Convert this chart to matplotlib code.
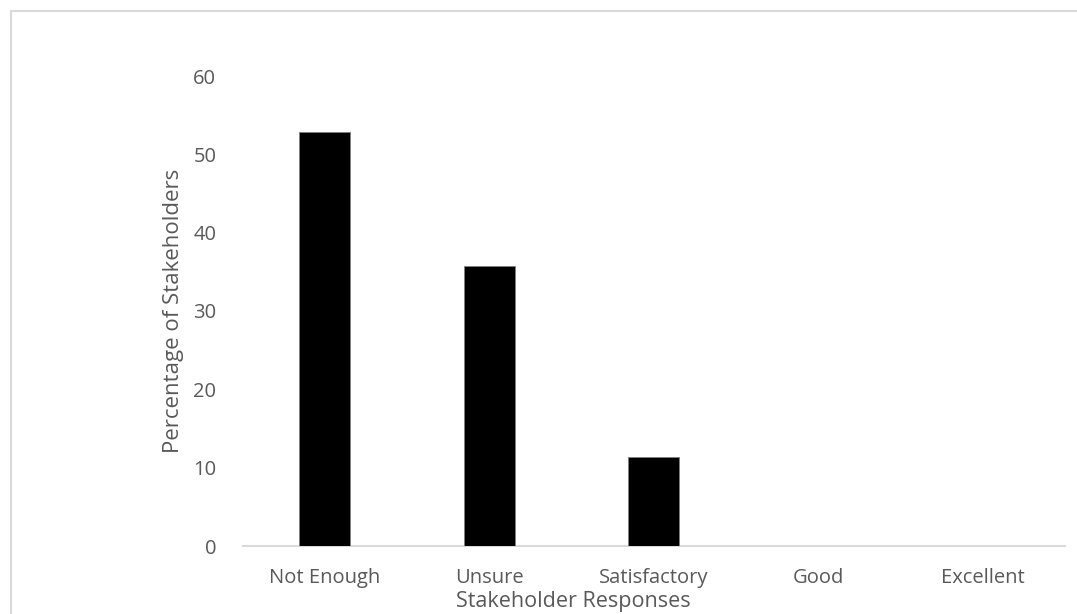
import matplotlib
matplotlib.use("Agg")
import matplotlib.pyplot as plt
from matplotlib.patches import Rectangle

categories = ["Not Enough", "Unsure", "Satisfactory", "Good", "Excellent"]
percentages = [52.9, 35.7, 11.4, 0, 0]
yticks = [0, 10, 20, 30, 40, 50, 60]

TXT = "#595959"
plt.rcParams["font.family"] = ["Open Sans", "DejaVu Sans"]

W, H = 1077, 614
fig = plt.figure(figsize=(W / 100, H / 100), dpi=100)
ax = fig.add_axes([242.7 / W, 1 - 546 / H, (1065 - 242.7) / W, (546 - 76) / H])

x = range(len(categories))
ax.bar(x, percentages, width=0.31, color="black", edgecolor="#7f7f7f", linewidth=0.6, zorder=3)

ax.set_xlim(-0.5, len(categories) - 0.5)
ax.set_ylim(0, 60)
ax.set_yticks(yticks)
ax.set_xticks(list(x))
ax.set_xticklabels(categories)
ax.tick_params(axis="both", length=0, labelsize=14.5, colors=TXT)
ax.tick_params(axis="x", pad=16)
ax.tick_params(axis="y", pad=19)

for s in ["top", "right", "left"]:
    ax.spines[s].set_visible(False)
ax.spines["bottom"].set_color("#d9d9d9")
ax.spines["bottom"].set_linewidth(1.5)

# axis titles placed where the original has them
fig.text(174 / W, 1 - 311 / H, "Percentage of Stakeholders", rotation=90,
         ha="center", va="center", fontsize=16, color=TXT)
fig.text(573 / W, 1 - 602 / H, "Stakeholder Responses", ha="center", va="center",
         fontsize=15.5, color=TXT)

# light chart-area frame
fig.patches.append(Rectangle((10.5 / W, -0.1), 1.2, 1 - 10.5 / H + 0.1, transform=fig.transFigure,
                             fill=False, edgecolor="#d9d9d9", linewidth=1.5))

fig.savefig("out.png", dpi=100)
